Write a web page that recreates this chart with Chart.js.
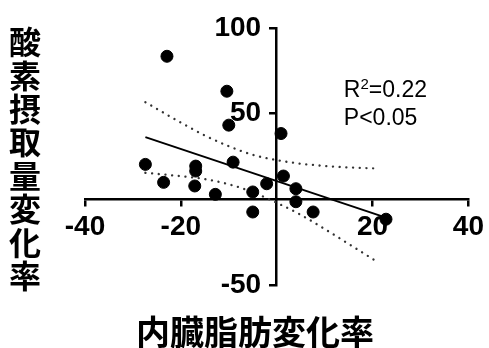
<!DOCTYPE html>
<html>
<head>
<meta charset="utf-8">
<script src="https://cdn.jsdelivr.net/npm/chart.js@4"></script>
<style>
  html, body { margin: 0; padding: 0; background: #fff; }
  #wrap { width: 489px; height: 348px; position: relative; }
</style>
</head>
<body>
<div id="wrap"><canvas id="c" width="489" height="348"></canvas></div>
<script>
// Change in visceral fat (%) vs change in oxygen uptake (%)
const fatChange = [-22.9, -10.4, -10.0, 0.9, -27.4, -9.1, -16.9, -16.9, -23.6, -17.1, -12.8, -5.0, -2.1, 1.4, 4.0, 4.0, -5.0, 7.6, 22.8];
const vo2Change = [83.5, 63.1, 43.3, 38.4, 20.4, 21.7, 19.4, 16.5, 9.9, 7.8, 2.9, 4.3, 9.1, 13.6, 6.2, -1.4, -7.4, -7.4, -11.6];

// Regression line end points
const fitX = [-27.4, 22.8];
const fitY = [36.3, -10.7];

// 95% confidence band
const bandX = [-27.4, -20, -15, -10, -5, 0, 5, 10, 15, 21];
const bandUpper = [56.7, 44.8, 37.3, 31.0, 26.0, 22.9, 20.8, 19.5, 18.6, 18.0];
const bandLower = [15.5, 13.5, 11.8, 8.8, 4.2, -2.0, -9.0, -17.3, -26.0, -36.5];

const xTicks = [-40, -20, 20, 40];
const yTicks = [-50, 50, 100];

const xTitle = '内臓脂肪変化率';
const yTitle = '酸素摂取量変化率';
const statLines = ['R', '2', '=0.22', 'P<0.05'];

const pts = (xs, ys) => xs.map((x, i) => ({ x: x, y: ys[i] }));

const titlesPlugin = {
  id: 'titles',
  afterDraw(chart) {
    const ctx = chart.ctx;
    ctx.save();
    ctx.fillStyle = '#000';
    ctx.textAlign = 'center';
    ctx.textBaseline = 'middle';
    ctx.font = 'bold 32px "Noto Sans CJK JP"';
    const chars = Array.from(yTitle);
    chars.forEach((ch, i) => ctx.fillText(ch, 25, 42 + i * 33.4));
    ctx.font = 'bold 34px "Noto Sans CJK JP"';
    ctx.fillText(xTitle, 255, 332);
    // statistics annotation
    ctx.textAlign = 'left';
    ctx.textBaseline = 'alphabetic';
    const xs = chart.scales.x, ys = chart.scales.y;
    let tx = xs.getPixelForValue(14);
    const base = ys.getPixelForValue(60);
    const big = '23px "Liberation Sans", Arial, sans-serif';
    const small = '15px "Liberation Sans", Arial, sans-serif';
    ctx.font = big;
    ctx.fillText(statLines[0], tx, base);
    tx += ctx.measureText(statLines[0]).width;
    ctx.font = small;
    ctx.fillText(statLines[1], tx, base - 8);
    tx += ctx.measureText(statLines[1]).width;
    ctx.font = big;
    ctx.fillText(statLines[2], tx, base);
    ctx.fillText(statLines[3], xs.getPixelForValue(14), base + 28);
    ctx.restore();
  }
};

new Chart(document.getElementById('c'), {
  type: 'scatter',
  data: {
    datasets: [
      {
        data: pts(fatChange, vo2Change),
        backgroundColor: '#000',
        borderColor: '#000',
        pointRadius: 6,
        pointHoverRadius: 6,
        order: 0
      },
      {
        type: 'line',
        data: pts(fitX, fitY),
        borderColor: '#000',
        borderWidth: 2,
        pointRadius: 0,
        fill: false,
        order: 1
      },
      {
        type: 'line',
        data: pts(bandX, bandUpper),
        borderColor: '#333',
        borderWidth: 2.3,
        borderDash: [0.1, 6.6],
        borderCapStyle: 'round',
        cubicInterpolationMode: 'monotone',
        pointRadius: 0,
        fill: false,
        order: 2
      },
      {
        type: 'line',
        data: pts(bandX, bandLower),
        borderColor: '#333',
        borderWidth: 2.3,
        borderDash: [0.1, 6.6],
        borderCapStyle: 'round',
        cubicInterpolationMode: 'monotone',
        pointRadius: 0,
        fill: false,
        order: 2
      }
    ]
  },
  options: {
    responsive: false,
    animation: false,
    devicePixelRatio: 1,
    layout: { padding: { left: 85, right: 19, top: 28, bottom: 63 } },
    plugins: { legend: { display: false }, tooltip: { enabled: false } },
    scales: {
      x: {
        type: 'linear',
        position: { y: 0 },
        min: -40, max: 40,
        afterBuildTicks: (s) => { s.ticks = xTicks.map(v => ({ value: v })); },
        ticks: {
          color: '#000',
          font: { family: '"Liberation Sans", Arial, sans-serif', size: 28, weight: 'bold' },
          padding: 5,
          maxRotation: 0,
          autoSkip: false
        },
        grid: { drawOnChartArea: false, drawTicks: true, tickLength: 6, color: '#000', lineWidth: 2.5 },
        border: { display: true, color: '#000', width: 2.5 }
      },
      y: {
        type: 'linear',
        position: { x: 0 },
        min: -50, max: 100,
        afterBuildTicks: (s) => { s.ticks = yTicks.map(v => ({ value: v })); },
        ticks: {
          color: '#000',
          font: { family: '"Liberation Sans", Arial, sans-serif', size: 28, weight: 'bold' },
          // trailing spaces keep the right-aligned labels clear of the tick marks
          callback: (v) => String(v) + '  ',
          autoSkip: false
        },
        grid: { drawOnChartArea: false, drawTicks: true, tickLength: 6, color: '#000', lineWidth: 2.5 },
        border: { display: true, color: '#000', width: 2.5 }
      }
    }
  },
  plugins: [titlesPlugin]
});
</script>
</body>
</html>
